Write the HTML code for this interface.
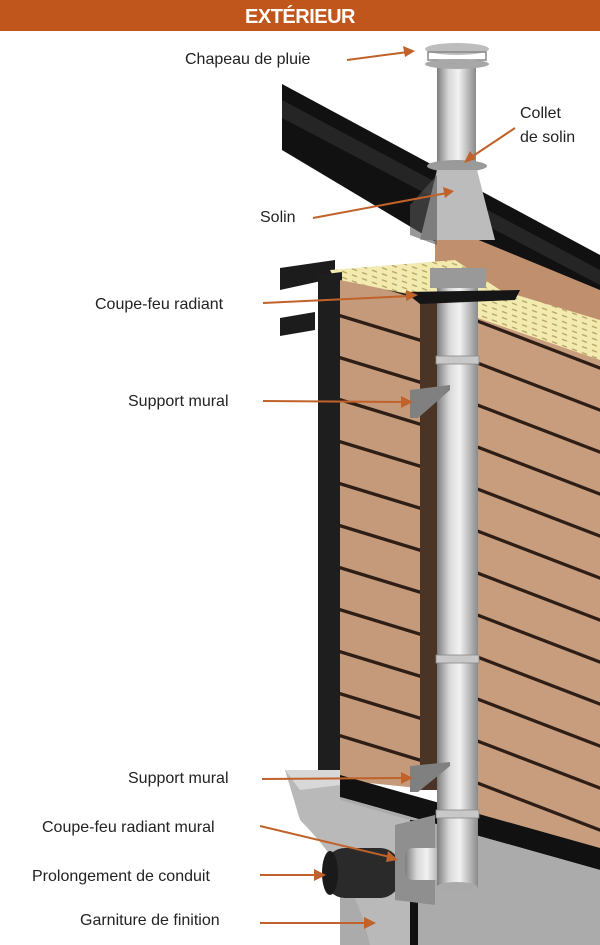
<!DOCTYPE html>
<html><head><meta charset="utf-8"><style>
html,body{margin:0;padding:0;background:#fff}
svg{display:block}
text{font-family:"Liberation Sans",sans-serif;font-size:16px;fill:#222}
</style></head><body>
<svg width="600" height="945" viewBox="0 0 600 945" xmlns="http://www.w3.org/2000/svg">
<defs>
<pattern id="sl" width="600" height="42" patternUnits="userSpaceOnUse" patternTransform="skewY(17)">
<rect width="600" height="42" fill="#c49a7b"/><rect y="0" width="600" height="3.5" fill="#2e1e16"/></pattern>
<pattern id="sr" width="600" height="42" patternUnits="userSpaceOnUse" patternTransform="translate(0,10) skewY(21)">
<rect width="600" height="42" fill="#c89d7d"/><rect y="0" width="600" height="3.5" fill="#2e1e16"/></pattern>
<linearGradient id="pipe" x1="0" x2="1">
<stop offset="0" stop-color="#7d7d7d"/><stop offset=".3" stop-color="#d8d8d8"/><stop offset=".55" stop-color="#f2f2f2"/><stop offset="1" stop-color="#8a8a8a"/></linearGradient>
<pattern id="ins" width="10" height="6" patternUnits="userSpaceOnUse" patternTransform="skewY(20)">
<rect width="10" height="6" fill="#f3eab0"/><rect x="2" y="2" width="5" height="1.5" fill="#b8a968"/></pattern>
</defs>
<rect x="0" y="0" width="600" height="31" fill="#c0561b"/>
<text x="300" y="23" text-anchor="middle" style="font-size:20px;font-weight:bold;fill:#fff;letter-spacing:-0.5px">EXTÉRIEUR</text>

<polygon points="282,84 600,255 600,340 282,150" fill="#111"/>
<polygon points="282,100 600,270 600,285 282,118" fill="#333" opacity=".6"/>
<polygon points="435,222 600,290 600,330 435,268" fill="#c08f6e"/>
<polygon points="280,268 335,260 335,278 280,290" fill="#1c1c1c"/>
<polygon points="280,318 315,312 315,330 280,336" fill="#1c1c1c"/>
<polygon points="330,270 455,260 500,290 600,320 600,365 478,320 420,300 340,290" fill="url(#ins)"/>
<polygon points="318,275 342,272 342,800 318,800" fill="#1e1e1e"/>
<polygon points="340,280 437,300 437,790 340,780" fill="url(#sl)"/>
<polygon points="420,300 437,300 437,790 420,790" fill="#4a3426"/>
<polygon points="478,318 600,360 600,860 478,815" fill="url(#sr)"/>
<polygon points="340,775 600,848 600,870 340,797" fill="#111"/>
<polygon points="340,797 600,870 600,945 340,945" fill="#ababab"/>
<rect x="400" y="820" width="18" height="125" fill="#111"/>
<path d="M285,770 L340,770 L340,800 L410,820 L410,945 L370,945 C360,900 340,860 300,820 Z" fill="#b9b9b9"/>
<path d="M285,770 L340,770 L340,785 L300,790 Z" fill="#d8d8d8"/>
<rect x="325" y="848" width="75" height="50" rx="20" fill="#2a2a2a"/>
<ellipse cx="330" cy="873" rx="8" ry="22" fill="#1a1a1a"/>
<polygon points="395,825 435,815 435,905 395,900" fill="#8f8f8f"/>
<rect x="405" y="848" width="40" height="32" rx="8" fill="url(#pipe)"/>
<rect x="437" y="270" width="41" height="618" fill="url(#pipe)"/>
<ellipse cx="457" cy="887" rx="20.5" ry="5" fill="#aaa"/>
<rect x="436" y="356" width="43" height="8" fill="#c8c8c8" stroke="#888" stroke-width=".8"/>
<rect x="436" y="655" width="43" height="8" fill="#c8c8c8" stroke="#888" stroke-width=".8"/>
<rect x="436" y="810" width="43" height="8" fill="#c8c8c8" stroke="#888" stroke-width=".8"/>
<rect x="430" y="268" width="56" height="20" fill="#999"/>
<polygon points="405,292 520,290 515,300 420,304" fill="#151515"/>
<polygon points="410,390 450,385 450,390 418,418 410,418" fill="#808080"/>
<polygon points="410,766 450,762 450,766 418,792 410,792" fill="#808080"/>
<rect x="437" y="60" width="39" height="110" fill="url(#pipe)"/>
<ellipse cx="457" cy="49" rx="32" ry="6" fill="#bdbdbd"/>
<rect x="428" y="52" width="58" height="8" fill="none" stroke="#888" stroke-width="1.5"/>
<ellipse cx="457" cy="64" rx="32" ry="5" fill="#a8a8a8"/>
<ellipse cx="457" cy="166" rx="30" ry="6" fill="#9a9a9a"/>
<polygon points="437,170 477,170 495,240 420,240" fill="#bcbcbc"/>
<polygon points="410,205 437,175 437,245 410,235" fill="#555" opacity=".6"/>

<g>
<text x="185" y="64">Chapeau de pluie</text>
<text x="520" y="118">Collet</text>
<text x="520" y="142">de solin</text>
<text x="260" y="222">Solin</text>
<text x="95" y="309">Coupe-feu radiant</text>
<text x="128" y="406">Support mural</text>
<text x="128" y="783">Support mural</text>
<text x="42" y="832">Coupe-feu radiant mural</text>
<text x="32" y="881">Prolongement de conduit</text>
<text x="80" y="925">Garniture de finition</text>
</g>
<g stroke="#c0622a" stroke-width="2" fill="#c0622a">
<line x1="347" y1="60" x2="408" y2="52"/><polygon points="415,51 403,46 405,57" stroke="none"/>
<line x1="515" y1="128" x2="470" y2="158"/><polygon points="464,163 470,151 476,159" stroke="none"/>
<line x1="313" y1="218" x2="447" y2="193"/><polygon points="454,191 443,187 445,198" stroke="none"/>
<line x1="263" y1="303" x2="410" y2="296"/><polygon points="418,295 406,290 406,301" stroke="none"/>
<line x1="263" y1="401" x2="405" y2="402"/><polygon points="413,402 401,396 401,408" stroke="none"/>
<line x1="262" y1="779" x2="405" y2="778"/><polygon points="413,778 401,772 401,784" stroke="none"/>
<line x1="260" y1="826" x2="390" y2="857"/><polygon points="398,860 388,851 386,862" stroke="none"/>
<line x1="260" y1="875" x2="317" y2="875"/><polygon points="326,875 314,869 314,881" stroke="none"/>
<line x1="260" y1="923" x2="367" y2="923"/><polygon points="376,923 364,917 364,929" stroke="none"/>
</g>
</svg>
</body></html>
